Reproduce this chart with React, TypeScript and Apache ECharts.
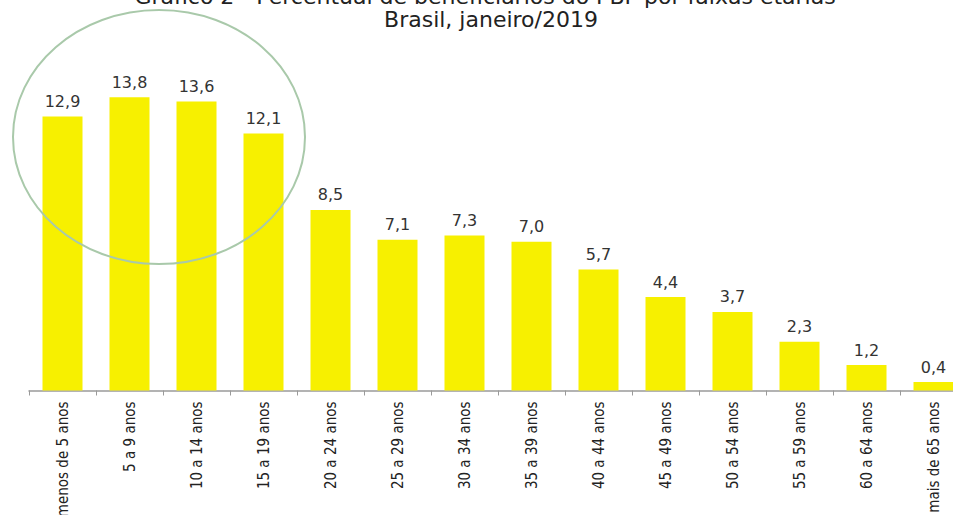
import React, { useEffect, useRef } from "react";
import * as echarts from "echarts";

const categories = [
  "menos de 5 anos",
  "5 a 9 anos",
  "10 a 14 anos",
  "15 a 19 anos",
  "20 a 24 anos",
  "25 a 29 anos",
  "30 a 34 anos",
  "35 a 39 anos",
  "40 a 44 anos",
  "45 a 49 anos",
  "50 a 54 anos",
  "55 a 59 anos",
  "60 a 64 anos",
  "mais de 65 anos",
];

const values = [12.9, 13.8, 13.6, 12.1, 8.5, 7.1, 7.3, 7.0, 5.7, 4.4, 3.7, 2.3, 1.2, 0.4];

const titleLine1 = "Gráfico 2 - Percentual de beneficiários do PBF por faixas etárias";
const titleLine2 = "Brasil, janeiro/2019";

export default function App() {
  const ref = useRef<HTMLDivElement>(null);

  useEffect(() => {
    document.body.style.margin = "0";
    if (!ref.current) return;
    const chart = echarts.init(ref.current, undefined, { renderer: "svg" });
    chart.setOption({
      animation: false,
      backgroundColor: "#ffffff",
      grid: {
        left: 29,
        right: 0,
        top: 71.75,
        bottom: 124.5,
        containLabel: false,
        outerBoundsMode: "none",
      },
      xAxis: {
        type: "category",
        data: categories,
        axisLine: { show: true, lineStyle: { color: "#9a9a9a", width: 1.5 } },
        axisTick: { show: true, length: 5, lineStyle: { color: "#9a9a9a" } },
        axisLabel: {
          rotate: 90,
          interval: 0,
          margin: 11,
          color: "#222222",
          fontSize: 15,
          fontFamily: "'Liberation Sans Narrow', 'DejaVu Sans Condensed', sans-serif",
        },
      },
      yAxis: {
        type: "value",
        min: 0,
        max: 15,
        show: false,
        splitLine: { show: false },
      },
      series: [
        {
          type: "bar",
          data: values,
          barWidth: 40,
          itemStyle: { color: "#f7f000" },
          label: {
            show: true,
            position: "top",
            distance: 7,
            color: "#333333",
            fontSize: 16,
            fontFamily: "'DejaVu Sans', sans-serif",
            formatter: (p: any) => Number(p.value).toFixed(1).replace(".", ","),
          },
        },
      ],
      graphic: [
        {
          type: "text",
          x: 485,
          y: -4,
          z: 10,
          style: {
            text: titleLine1,
            fill: "#222222",
            fontSize: 22,
            fontFamily: "'DejaVu Sans', sans-serif",
            textAlign: "center",
            textVerticalAlign: "middle",
          },
        },
        {
          type: "text",
          x: 491,
          y: 19,
          z: 10,
          style: {
            text: titleLine2,
            fill: "#222222",
            fontSize: 22,
            fontFamily: "'DejaVu Sans', sans-serif",
            textAlign: "center",
            textVerticalAlign: "middle",
          },
        },
        {
          type: "ellipse",
          z: 100,
          shape: { cx: 159, cy: 137, rx: 146, ry: 127 },
          style: { fill: "none", stroke: "#a9c9aa", lineWidth: 2 },
        },
      ],
    });
    return () => chart.dispose();
  }, []);

  return (
    <div style={{ width: 953, height: 515, overflow: "hidden", position: "relative" }}>
      <div ref={ref} style={{ width: 967, height: 515 }} />
    </div>
  );
}
